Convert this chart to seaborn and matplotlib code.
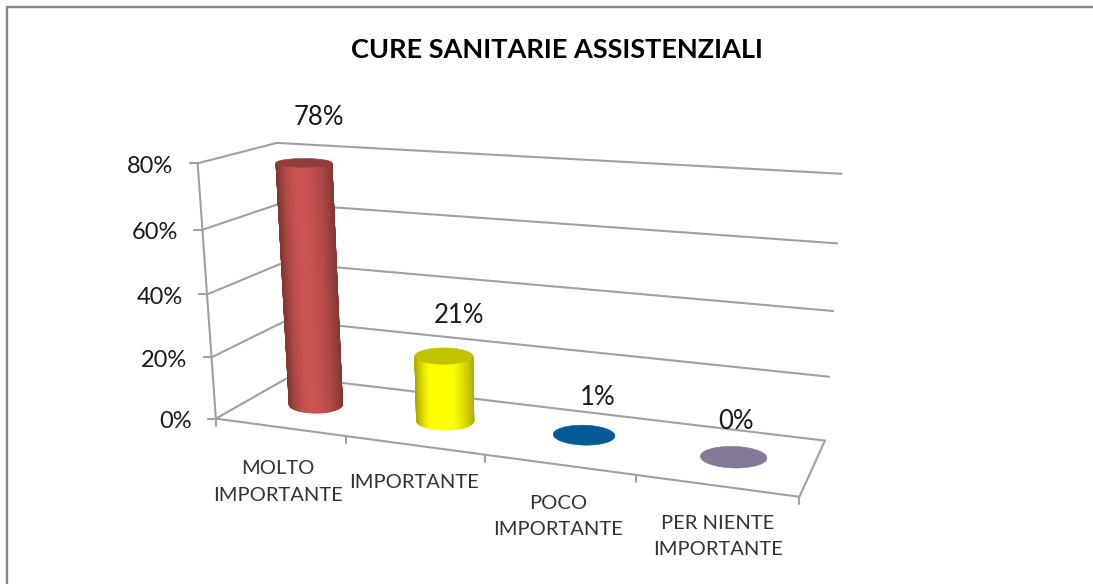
import numpy as np
import pandas as pd
import matplotlib
matplotlib.use("Agg")
import matplotlib.pyplot as plt
import matplotlib.colors as mc
from matplotlib.patches import Polygon
import seaborn as sns

categories = ["MOLTO\nIMPORTANTE", "IMPORTANTE", "POCO\nIMPORTANTE", "PER NIENTE\nIMPORTANTE"]
values = [78, 21, 1, 0]
value_labels = ["78%", "21%", "1%", "0%"]
tick_values = [0, 20, 40, 60, 80]
tick_labels = ["0%", "20%", "40%", "60%", "80%"]
colors = ["#C0504D", "#FFFF00", "#005A96", "#85799A"]
title = "CURE SANITARIE ASSISTENZIALI"

sns.set_theme(style="white")
plt.rcParams["font.family"] = ["Lato", "DejaVu Sans"]

# camera calibration: model box corners (u, depth, height) -> picture
model = np.array([
    [0,0,0],[1,0,0],[1,1,0],[0,1,0],[0,0,1],[0,1,1],[1,1,1],
    [0,0,.25],[0,0,.5],[0,0,.75],[1,1,.25],[1,1,.5],[1,1,.75],
    [.25,0,0],[.5,0,0],[.75,0,0]], float)
image = np.array([
    [215,418],[799,496],[825,440],[291,376],[199,163],[275,144],[842,174],
    [211,357],[207,294],[203,229],[829,377],[833,311],[837,243],
    [346,438],[485,456],[636,475]], float)
A = []
for (X, Y, Z), (a, b) in zip(model, image):
    A.append([X, Y, Z, 1, 0, 0, 0, 0, -a*X, -a*Y, -a*Z, -a])
    A.append([0, 0, 0, 0, X, Y, Z, 1, -b*X, -b*Y, -b*Z, -b])
P = np.linalg.svd(np.array(A))[2][-1].reshape(3, 4)

def project(u, d, z):
    u, d, z = np.broadcast_arrays(np.asarray(u, float), np.asarray(d, float), np.asarray(z, float))
    h = P @ np.vstack([u.ravel(), d.ravel(), z.ravel(), np.ones(u.size)])
    return h[0]/h[2], h[1]/h[2]

fig = plt.figure(figsize=(10.93, 5.84), dpi=100)
ax = fig.add_axes([0, 0, 1, 1])

# wire frame of the chart box
rows = []
def seg(name, pts):
    xs, ys = project(*np.array(pts, float).T)
    for x, y in zip(xs, ys):
        rows.append(dict(seg=name, x=x, y=y))
ymax = tick_values[-1]
for t in tick_values:
    z = t/ymax
    seg(f"g{t}", [(0,0,z),(0,1,z),(1,1,z)])
seg("front", [(0,0,0),(1,0,0),(1,1,0)])
seg("axis", [(0,0,0),(0,0,1)])
frame = pd.DataFrame(rows)
sns.lineplot(data=frame, x="x", y="y", units="seg", estimator=None, sort=False,
             color="#A0A0A0", lw=1.5, ax=ax, legend=False)
ax.set_xlim(0, 1093); ax.set_ylim(584, 0); ax.axis("off")

# outer frame: top and left edges only
ax.plot([7, 7, 1093], [584, 7, 7], color="#868686", lw=1.7, solid_joinstyle="miter")

# ticks and labels
for t, lab in zip(tick_values, tick_labels):
    x, y = project(0, 0, t/ymax)
    ax.plot([x[0]-8, x[0]], [y[0], y[0]], color="#A0A0A0", lw=1.5)
    ax.text(x[0]-24.5, y[0]+3, lab, ha="right", va="center", fontsize=17, color="#1a1a1a")
for k in range(5):
    x, y = project(k/4, 0, 0)
    ax.plot([x[0], x[0]], [y[0], y[0]+7], color="#A0A0A0", lw=1.5)

label_pos = [(278, 482), (414, 482), (558, 516.5), (718, 536.5)]
for lab, (x, y) in zip(categories, label_pos):
    ax.text(x, y, lab, ha="center", va="center", fontsize=14.5, color="#333333", linespacing=1.65)

# cylinders
RU, RD = 0.0535, 0.2
DEPTH = 0.5
def shade(c, f):
    c = np.array(mc.to_rgb(c))
    return tuple(np.clip(c*f, 0, 1))
def ring(cu, z, th, tilted=False):
    # axis-aligned screen ellipse sized by the camera at this height
    cx, cy = project(cu, DEPTH, z)
    xl, yl = project(cu-RU, DEPTH, z)
    xr, yr = project(cu+RU, DEPTH, z)
    _, yn = project(cu, DEPTH-RD, z)
    _, yf = project(cu, DEPTH+RD, z)
    a = (xr[0]-xl[0])/2
    b = abs(yn[0]-yf[0])/2
    tilt = (yr[0]-yl[0])/2 * 0.2 if tilted else 0.0
    return cx[0] + a*np.cos(th), cy[0] + b*np.sin(th) + tilt*np.cos(th)

for i, (v, c) in enumerate(zip(values, colors)):
    cu = (i+.5)/4
    z = v/ymax
    flat = v <= 2
    if not flat:
        th = np.linspace(0, np.pi, 121)
        xb, yb = ring(cu, 0, th)
        xt, yt = ring(cu, z, th)
        for j in range(len(th)-1):
            p = np.cos((th[j]+th[j+1])/2)
            span = 1.2 if p > -0.2 else 0.8
            f = 0.68 + 0.38*(1-((p+0.2)/span)**2)
            col = shade(c, f)
            ax.add_patch(Polygon([(xb[j], yb[j]), (xb[j+1], yb[j+1]), (xt[j+1], yt[j+1]), (xt[j], yt[j])],
                                 closed=True, fc=col, ec=col, lw=0.5, zorder=3))
    full = np.linspace(0, 2*np.pi, 121)
    xc, yc = ring(cu, z, full, tilted=flat)
    top = 1.0 if flat else 0.76
    ax.add_patch(Polygon(np.c_[xc, yc], closed=True, fc=shade(c, top), ec=shade(c, top), lw=0.4, zorder=4))

# value labels
vl_pos = [(319, 116), (459, 314), (598, 396), (736, 420)]
for lab, (x, y) in zip(value_labels, vl_pos):
    ax.text(x, y+1.5, lab, ha="center", va="center", fontsize=18.5, color="#1a1a1a", zorder=5)

ax.text(557, 50, title, ha="center", va="center", fontsize=19.5, fontweight="bold", color="black")
fig.savefig("out.png", dpi=100, facecolor="white")
